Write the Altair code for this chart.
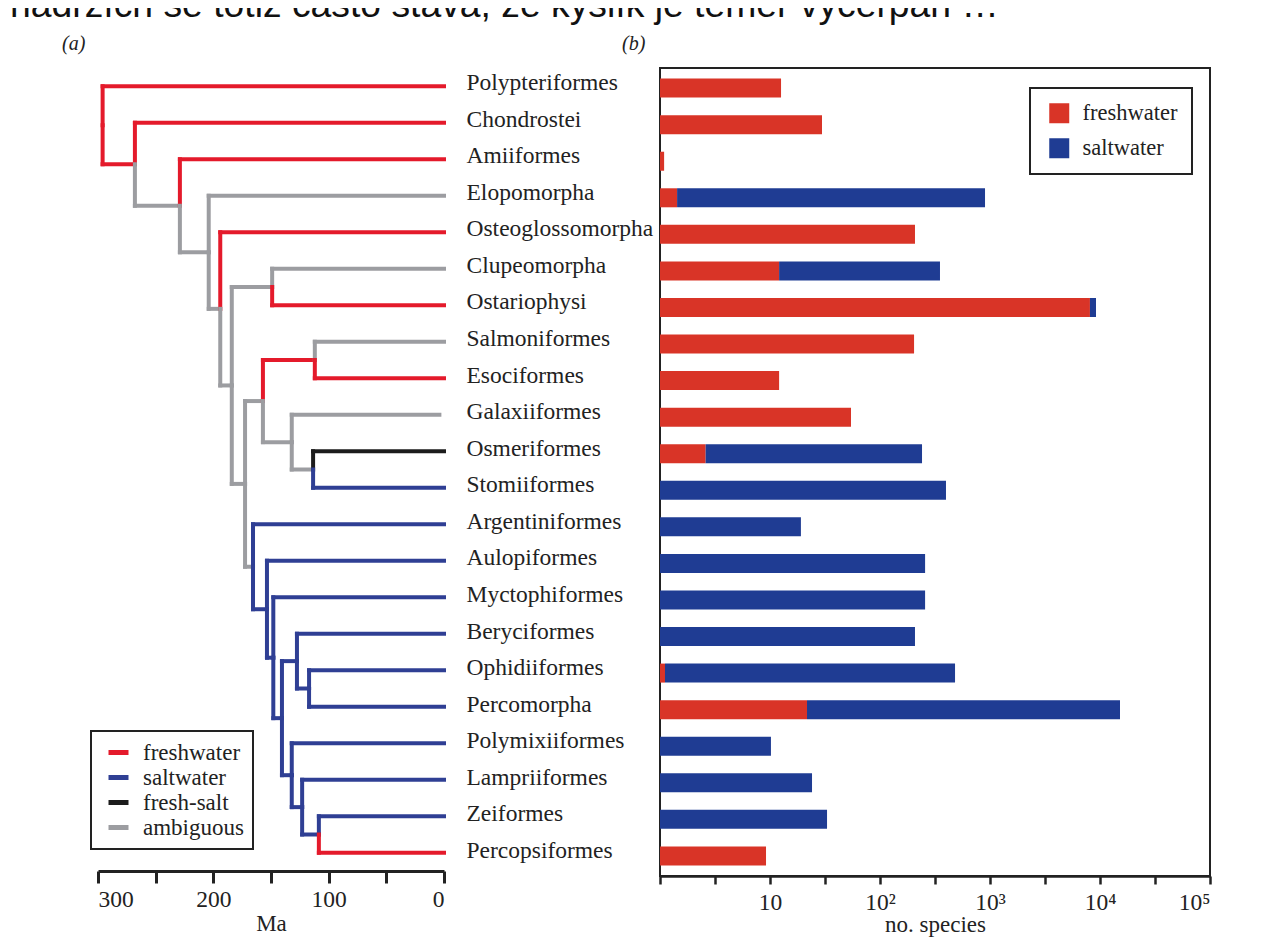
import json
import altair as alt
import pandas as pd

# ---------------- data ----------------
page_text = "nádržích se totiž často stává, že kyslík je téměr vyčerpán …"

groups = ["Polypteriformes", "Chondrostei", "Amiiformes", "Elopomorpha", "Osteoglossomorpha",
          "Clupeomorpha", "Ostariophysi", "Salmoniformes", "Esociformes", "Galaxiiformes",
          "Osmeriformes", "Stomiiformes", "Argentiniformes", "Aulopiformes", "Myctophiformes",
          "Beryciformes", "Ophidiiformes", "Percomorpha", "Polymixiiformes", "Lampriiformes",
          "Zeiformes", "Percopsiformes"]
# cumulative bar ends (freshwater part, then total)
freshwater = [12.6, 29.7, 1.09, 1.43, 208, 12.1, 8100, 204, 12.1, 54.5,
              2.6, 0, 0, 0, 0, 0, 1.11, 21.7, 0, 0, 0, 9.2]
total = [12.6, 29.7, 1.09, 901, 208, 351, 9200, 204, 12.1, 54.5,
         241, 398, 19.1, 257, 257, 208, 481, 15200, 10.2, 24.1, 33, 9.2]

# tree: internal node ages (Ma)
node_names = ["root", "A", "B", "C", "D", "E", "F", "G", "H", "I", "J", "K",
              "L", "M", "N", "O", "P", "R", "Q", "S", "T"]
node_ages = [296, 268, 229, 204, 194, 184, 149, 172.5, 157, 112, 132, 113.5,
             165.6, 153.5, 148, 140.5, 127.5, 117, 132, 123, 108.5]
leaf_ages = {"Galaxiiformes": 4}
edge_parent = ["root", "root", "A", "A", "B", "B", "C", "C", "D", "D", "E", "E",
               "F", "F", "G", "G", "H", "H", "I", "I", "J", "J", "K", "K",
               "L", "L", "M", "M", "N", "N", "O", "O", "P", "P", "R", "R",
               "Q", "Q", "S", "S", "T", "T"]
edge_child = ["Polypteriformes", "A", "Chondrostei", "B", "Amiiformes", "C", "Elopomorpha", "D",
              "Osteoglossomorpha", "E", "F", "G", "Clupeomorpha", "Ostariophysi", "H", "L",
              "I", "J", "Salmoniformes", "Esociformes", "Galaxiiformes", "K",
              "Osmeriformes", "Stomiiformes", "Argentiniformes", "M", "Aulopiformes", "N",
              "Myctophiformes", "O", "P", "Q", "Beryciformes", "R", "Ophidiiformes", "Percomorpha",
              "Polymixiiformes", "S", "Lampriiformes", "T", "Zeiformes", "Percopsiformes"]
edge_state = ["freshwater", "freshwater", "freshwater", "ambiguous", "freshwater", "ambiguous",
              "ambiguous", "ambiguous", "freshwater", "ambiguous", "ambiguous", "ambiguous",
              "ambiguous", "freshwater", "ambiguous", "ambiguous", "freshwater", "ambiguous",
              "ambiguous", "freshwater", "ambiguous", "ambiguous", "fresh-salt", "saltwater",
              "saltwater", "saltwater", "saltwater", "saltwater", "saltwater", "saltwater",
              "saltwater", "saltwater", "saltwater", "saltwater", "saltwater", "saltwater",
              "saltwater", "saltwater", "saltwater", "saltwater", "saltwater", "freshwater"]

tree_states = ["freshwater", "saltwater", "fresh-salt", "ambiguous"]
tree_colors = ["#E41A2B", "#2F3F94", "#1C1C1C", "#9C9DA1"]
bar_states = ["freshwater", "saltwater"]
bar_colors = ["#D93427", "#1F3C93"]

tick_values = [1, 3.1623, 10, 31.623, 100, 316.23, 1000, 3162.3, 10000, 31623, 100000]
tick_labels = ["", "", "10", "", "10²", "", "10³", "", "10⁴", "", "10⁵"]

FONT = "Liberation Serif"
FS = 23.5

# ---------------- tree layout ----------------
age = {n: a for n, a in zip(node_names, node_ages)}
for i, g in enumerate(groups):
    age[g] = leaf_ages.get(g, 0)
children = {}
for p, c in zip(edge_parent, edge_child):
    children.setdefault(p, []).append(c)
ypos = {g: i for i, g in enumerate(groups)}


def get_y(n):
    if n not in ypos:
        ys = [get_y(c) for c in children[n]]
        ypos[n] = sum(ys) / len(ys)
    return ypos[n]


get_y("root")
segs = []
for p, c, s in zip(edge_parent, edge_child, edge_state):
    segs.append({"x": age[p], "x2": age[c], "y": ypos[c], "y2": ypos[c], "state": s})
    segs.append({"x": age[p], "x2": age[p], "y": ypos[p], "y2": ypos[c], "state": s})
tree_df = pd.DataFrame(segs)

bars = []
for g, f, t in zip(groups, freshwater, total):
    if f > 0:
        bars.append({"group": g, "start": 1, "end": f, "habitat": "freshwater"})
    if t > f:
        bars.append({"group": g, "start": max(f, 1), "end": t, "habitat": "saltwater"})
bar_df = pd.DataFrame(bars)

# ---------------- charts ----------------
title_common = dict(anchor="start", frame="group", font=FONT, fontStyle="italic",
                    fontSize=20, fontWeight="normal", color="#222", offset=14)

left = alt.Chart(tree_df).mark_rule(strokeWidth=4, strokeCap="square").encode(
    x=alt.X("x:Q", scale=alt.Scale(domain=[0, 300], reverse=True, nice=False),
            axis=alt.Axis(values=[0, 50, 100, 150, 200, 250, 300],
                          labelExpr="datum.value % 100 == 0 ? datum.label : ''",
                          title="Ma", grid=False, domainColor="#222", domainWidth=3,
                          tickColor="#222", tickWidth=3, tickSize=12,
                          labelFont=FONT, labelFontSize=FS, labelColor="#222", labelPadding=4,
                          titleFont=FONT, titleFontSize=23, titleFontWeight="normal",
                          titleColor="#222", titlePadding=2)),
    x2="x2:Q",
    y=alt.Y("y:Q", scale=alt.Scale(domain=[-0.5, 21.5], reverse=True, nice=False, zero=False),
            axis=None),
    y2="y2:Q",
    color=alt.Color("state:N", scale=alt.Scale(domain=tree_states, range=tree_colors),
                    legend=alt.Legend(title=None, orient="none", legendX=-7, legendY=663,
                                      symbolType="stroke", symbolSize=400, symbolStrokeWidth=5,
                                      symbolOffset=6,
                                      labelFont=FONT, labelFontSize=23, labelColor="#222",
                                      labelOffset=12, rowPadding=0, padding=9,
                                      strokeColor="#222")),
).properties(width=346, height=803,
             title=alt.TitleParams("(a)", dx=-36, **title_common),
             view=alt.ViewBackground(strokeWidth=0))

right = alt.Chart(bar_df).mark_bar().encode(
    y=alt.Y("group:N", sort=groups,
            scale=alt.Scale(paddingInner=0.48, paddingOuter=0.29),
            axis=alt.Axis(title=None, domain=False, ticks=False, labelAlign="left",
                          labelPadding=194, labelFont=FONT, labelFontSize=FS, labelLimit=400,
                          labelColor="#222", labelBaseline="alphabetic", labelOffset=2)),
    x=alt.X("start:Q", scale=alt.Scale(type="log", domain=[1, 100000], nice=False),
            axis=alt.Axis(values=tick_values,
                          labelExpr=json.dumps(tick_labels, ensure_ascii=False)
                          + "[round(log(datum.value) / LN10 * 2)]",
                          title="no. species", grid=False, domainColor="#222", domainWidth=2.5,
                          tickColor="#222", tickWidth=2.5, tickSize=8,
                          labelFont=FONT, labelFontSize=FS, labelColor="#222", labelPadding=6,
                          titleFont=FONT, titleFontSize=23, titleFontWeight="normal",
                          titleColor="#222", titlePadding=0)),
    x2="end:Q",
    color=alt.Color("habitat:N", scale=alt.Scale(domain=bar_states, range=bar_colors),
                    legend=alt.Legend(title=None, orient="none", legendX=370, legendY=20,
                                      symbolType="square", symbolSize=400, symbolStrokeWidth=0,
                                      symbolOffset=4,
                                      labelFont=FONT, labelFontSize=22.5, labelColor="#222",
                                      labelOffset=12, rowPadding=12, padding=14,
                                      strokeColor="#222")),
).properties(width=550, height=808,
             title=alt.TitleParams("(b)", dx=-38, **title_common),
             view=alt.ViewBackground(stroke="#222", strokeWidth=2))

chart = alt.hconcat(left, right, spacing=18).resolve_scale(color="independent").properties(
    title=alt.TitleParams(page_text, anchor="start", dx=-52, font="Liberation Sans",
                          fontSize=37.3, fontWeight="normal", color="#111", offset=8),
    padding={"left": 2, "top": -22, "right": 5, "bottom": 2},
    background="white",
).configure_legend(strokeWidth=2)

chart.save("out.html", embed_options={"renderer": "svg", "actions": False})
